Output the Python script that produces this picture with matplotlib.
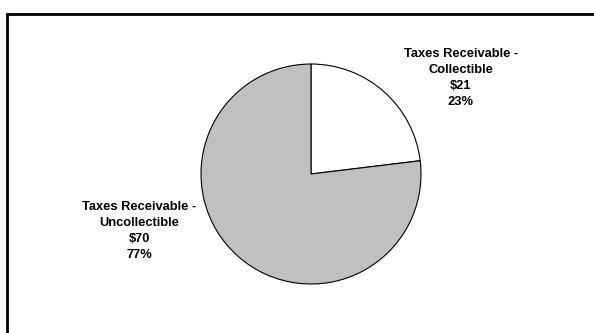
import matplotlib
matplotlib.use("Agg")
import matplotlib.pyplot as plt
from matplotlib.patches import Rectangle

categories = ["Taxes Receivable -\nCollectible", "Taxes Receivable -\nUncollectible"]
values = [21, 70]
colors = ["#ffffff", "#c0c0c0"]
title = "Composition of Taxes Receivable, 2009"

W, H = 594, 333
fig = plt.figure(figsize=(W / 100, H / 100), dpi=100)
plt.rcParams['font.family'] = ['Liberation Sans', 'DejaVu Sans']

# outer frame (extends beyond right/bottom edge)
fig.patches.append(Rectangle((7 / W, -0.2), 1.2, (H - 14) / H + 0.2, transform=fig.transFigure,
                             fill=False, edgecolor='black', linewidth=2.0, zorder=0))

# title, mostly outside the top edge as in the reference
fig.text(54 / W, 1.0 + 3.5 / H, title, fontsize=10, fontweight='bold', ha='left', va='baseline')

cx, cy, r = 311, 174, 110
ax = fig.add_axes([(cx - r) / W, (H - cy - r) / H, 2 * r / W, 2 * r / H])
wedges, _ = ax.pie(values, colors=colors, startangle=90, counterclock=False,
                   wedgeprops=dict(edgecolor='black', linewidth=0.8))
ax.set_xlim(-1, 1)
ax.set_ylim(-1, 1)
ax.set_aspect('equal')
ax.axis('off')

total = sum(values)
label_pos = [(461, 78), (139, 231)]
for cat, v, (px, py) in zip(categories, values, label_pos):
    txt = f"{cat}\n${v}\n{v / total * 100:.0f}%"
    fig.text(px / W, 1 - py / H, txt, ha='center', va='center', fontsize=9.3,
             fontweight='bold', linespacing=1.45)

fig.savefig("out.png", dpi=100)
